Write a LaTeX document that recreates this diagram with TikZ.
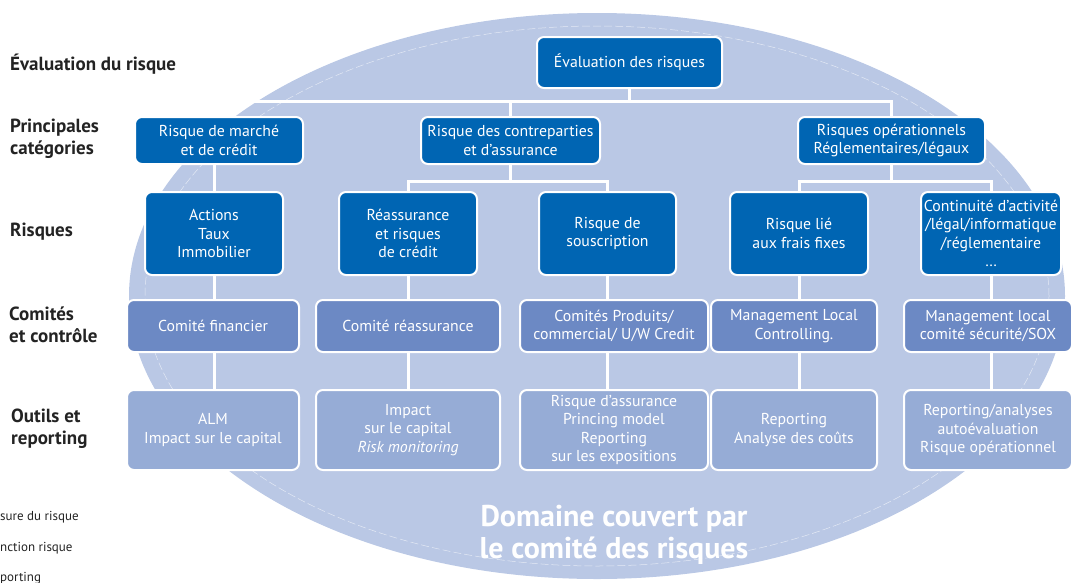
\documentclass[tikz,border=0pt]{standalone}
\usepackage{fontspec}
\setmainfont{PT Sans}
\definecolor{dblue}{RGB}{0,101,179}
\definecolor{mblue}{RGB}{108,137,196}
\definecolor{lblue}{RGB}{150,172,214}
\definecolor{ellc}{RGB}{186,200,229}
\definecolor{lbl}{RGB}{35,35,35}
\pgfdeclarelayer{bg}
\pgfsetlayers{bg,main}
\tikzset{
 box/.style={draw=white, line width=2pt, rounded corners=7pt, text=white, align=center,
   font=\fontsize{15.8}{18.5}\selectfont, inner sep=0pt},
 catbox/.style={box, fill=dblue},
 combox/.style={box, fill=mblue},
 outbox/.style={box, fill=lblue},
 conn/.style={draw=white, line width=3pt},
 rowlbl/.style={anchor=west, align=left, font=\bfseries\fontsize{19}{22}\selectfont, text=lbl, inner sep=0pt},
 legend/.style={anchor=west, font=\fontsize{13}{15}\selectfont, text=lbl, inner sep=0pt},
}
\begin{document}
\begin{tikzpicture}[x=1pt,y=-1pt]
\useasboundingbox (0,0) rectangle (1085,582);
\clip (0,0) rectangle (1085,582);
% boxes
\node[catbox, minimum width=185pt, minimum height=51pt] (top) at (629.5,62.5) {Évaluation des risques};
\node[catbox, minimum width=168pt, minimum height=47pt] (m1) at (219,140.5) {Risque de marché\\et de crédit};
\node[catbox, minimum width=179pt, minimum height=47pt] (m2) at (510.5,140.5) {Risque des contreparties\\et d’assurance};
\node[catbox, minimum width=187pt, minimum height=47pt] (m3) at (891.5,140.5) {Risques opérationnels\\Réglementaires/légaux};
\node[catbox, minimum width=138pt, minimum height=83pt] (r1) at (214,233.5) {Actions\\Taux\\Immobilier};
\node[catbox, minimum width=138pt, minimum height=83pt] (r2) at (408,233.5) {Réassurance\\et risques\\de crédit};
\node[catbox, minimum width=137pt, minimum height=83pt] (r3) at (607.5,233.5) {Risque de\\souscription};
\node[catbox, minimum width=138pt, minimum height=83pt] (r4) at (799,233.5) {Risque lié\\aux frais fixes};
\node[catbox, minimum width=140pt, minimum height=83pt] (r5) at (991,233.5) {Continuité d’activité\\/légal/informatique\\/réglementaire\\\ldots};
\node[combox, minimum width=172pt, minimum height=52pt] (c1) at (213,326) {Comité financier};
\node[combox, minimum width=184pt, minimum height=52pt] (c2) at (408,326) {Comité réassurance};
\node[combox, minimum width=188pt, minimum height=52pt] (c3) at (614,326) {Comités Produits/\\commercial/ U/W Credit};
\node[combox, minimum width=166pt, minimum height=52pt] (c4) at (794,326) {Management Local\\Controlling.};
\node[combox, minimum width=168pt, minimum height=52pt] (c5) at (988,326) {Management local\\comité sécurité/SOX};
\node[outbox, minimum width=172pt, minimum height=80pt] (o1) at (213,430) {ALM\\Impact sur le capital};
\node[outbox, minimum width=184pt, minimum height=80pt] (o2) at (408,430) {Impact\\sur le capital\\\textit{Risk monitoring}};
\node[outbox, minimum width=188pt, minimum height=80pt] (o3) at (614,430) {Risque d’assurance\\Princing model\\Reporting\\sur les expositions};
\node[outbox, minimum width=166pt, minimum height=80pt] (o4) at (794,430) {Reporting\\Analyse des coûts};
\node[outbox, minimum width=168pt, minimum height=80pt] (o5) at (988,430) {Reporting/analyses\\autoévaluation\\Risque opérationnel};
% domain label
\node[text=white, align=center, font=\bfseries\fontsize{30}{32}\selectfont] (dom) at (614,535) {Domaine couvert par\\le comité des risques};
% row labels
\node[rowlbl] (l1) at (10,64) {Évaluation du risque};
\node[rowlbl] (l2) at (10,139) {Principales\\catégories};
\node[rowlbl] (l3) at (10,232) {Risques};
\node[rowlbl] (l4) at (9,325) {Comités\\et contrôle};
\node[rowlbl] (l5) at (11,429) {Outils et\\reporting};
% legend (cut off at the picture's edge)
\node[legend] (g1) at (0,517) {sure du risque};
\node[legend] (g2) at (0,548) {nction risque};
\node[legend] (g3) at (0,578) {porting};
% background and connectors
\begin{pgfonlayer}{bg}
\fill[ellc] (597,296) ellipse [x radius=468pt, y radius=283pt];
\draw[white, opacity=0.6, line width=0.5pt, dash pattern=on 8pt off 3pt] (597,296) ellipse [x radius=452pt, y radius=270pt];
\coordinate (j0) at ([yshift=-12pt]top.south);
\coordinate (j2) at ([yshift=-16pt]m2.south);
\coordinate (j3) at ([yshift=-16pt]m3.south);
\draw[conn] (top.south) -- (j0);
\draw[conn] (m1.north) |- (j0) -| (m3.north);
\draw[conn] (m2.north) -- (m2.north |- j0);
\draw[conn] (r1.north) -- (r1.north |- m1.south);
\draw[conn] (m2.south) -- (j2);
\draw[conn] (r2.north) |- (j2) -| (r3.north);
\draw[conn] (m3.south) -- (j3);
\draw[conn] (r4.north) |- (j3) -| (r5.north);
\draw[conn] (r1.south) -- (r1.south |- o1.north);
\draw[conn] (r2.south) -- (r2.south |- o2.north);
\draw[conn] (r3.south) -- (r3.south |- o3.north);
\draw[conn] (r4.south) -- (r4.south |- o4.north);
\draw[conn] (r5.south) -- (r5.south |- o5.north);
\end{pgfonlayer}
\end{tikzpicture}
\end{document}
